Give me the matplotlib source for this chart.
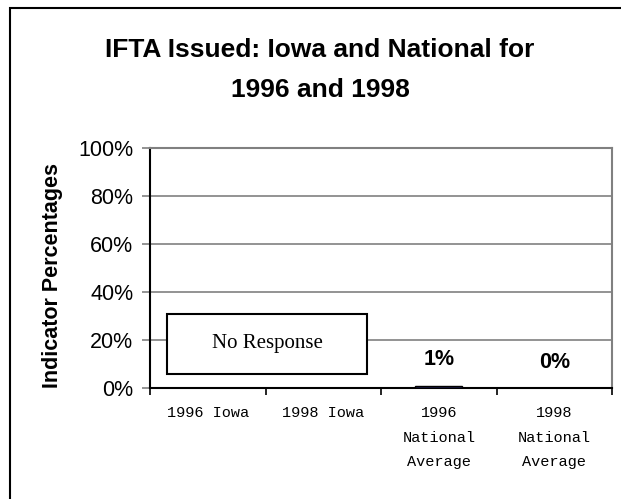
import matplotlib
matplotlib.use("Agg")
import matplotlib.pyplot as plt
from matplotlib.patches import Rectangle

categories = ["1996 Iowa", "1998 Iowa", "1996\nNational\nAverage", "1998\nNational\nAverage"]
values = [None, None, 1, 0]          # Iowa had no response
value_labels = ["", "", "1%", "0%"]
label_heights = [0, 0, 12, 10.7]     # where Excel put the data labels
y_ticks = [0, 20, 40, 60, 80, 100]
title = "IFTA Issued: Iowa and National for\n1996 and 1998"
no_response_text = "No Response"
no_response_range = (6, 31)          # box extent in percent


def main():
    fig = plt.figure(figsize=(6.21, 4.99), dpi=100)
    W, H = 621, 499

    # outer frame (runs off the right and bottom edge)
    fig.patches.append(Rectangle((9.5 / W, -0.05), 1.1, 1 - 7.5 / H + 0.05,
                                 transform=fig.transFigure, fill=False,
                                 edgecolor="black", linewidth=1.5))

    ax = fig.add_axes([150 / W, 1 - 388 / H, 462 / W, 240 / H])
    x = list(range(len(categories)))

    for i, v in enumerate(values):
        if v is None:
            continue
        ax.bar(i, v, width=0.41, color="#1c1c50", edgecolor="black",
               linewidth=1, zorder=3)
        ax.text(i, label_heights[i], value_labels[i], ha="center", va="center",
                fontsize=15.5, fontweight="bold", family="Liberation Sans")

    ax.set_xlim(-0.5, len(categories) - 0.5)
    ax.set_ylim(0, 100)
    ax.set_yticks(y_ticks)
    ax.set_yticklabels([f"{t}%" for t in y_ticks], family="Liberation Sans",
                       fontsize=15.5)
    ax.yaxis.grid(True, color="#808080", linewidth=1.2)
    ax.set_axisbelow(True)

    # category boundaries for x ticks
    ax.set_xticks([i - 0.5 for i in range(len(categories) + 1)])
    ax.set_xticklabels([])
    ax.set_xticks(x, minor=True)
    ax.set_xticklabels(categories, minor=True, family="Liberation Mono",
                       fontsize=11, linespacing=1.95, va="top")
    ax.tick_params(axis="x", which="minor", length=0, pad=13)
    ax.tick_params(axis="x", which="major", length=5, width=1.2, color="black")
    ax.tick_params(axis="y", length=6, width=1.2, color="#808080", pad=6)

    for side in ["top", "right"]:
        ax.spines[side].set_color("#808080")
        ax.spines[side].set_linewidth(1.5)
    for side in ["left", "bottom"]:
        ax.spines[side].set_color("black")
        ax.spines[side].set_linewidth(1.5)

    # "No Response" box across the Iowa categories
    lo, hi = no_response_range
    ax.add_patch(Rectangle((-0.35, lo), 1.73, hi - lo, facecolor="white",
                           edgecolor="black", linewidth=1.5, zorder=4))
    ax.text(0.515, (lo + hi) / 2, no_response_text, ha="center", va="center",
            family="Liberation Serif", fontsize=15, zorder=5)

    ax.set_ylabel("Indicator Percentages", family="Liberation Sans",
                  fontsize=15.5, fontweight="bold")
    ax.yaxis.set_label_coords(-87 / 462, 0.47)

    fig.text(320 / W, 1 - 70 / H, title, ha="center", va="center",
             family="Liberation Sans", fontsize=19, fontweight="bold",
             linespacing=1.8)

    fig.savefig("out.png", dpi=100)
    plt.close(fig)


if __name__ == "__main__":
    main()
